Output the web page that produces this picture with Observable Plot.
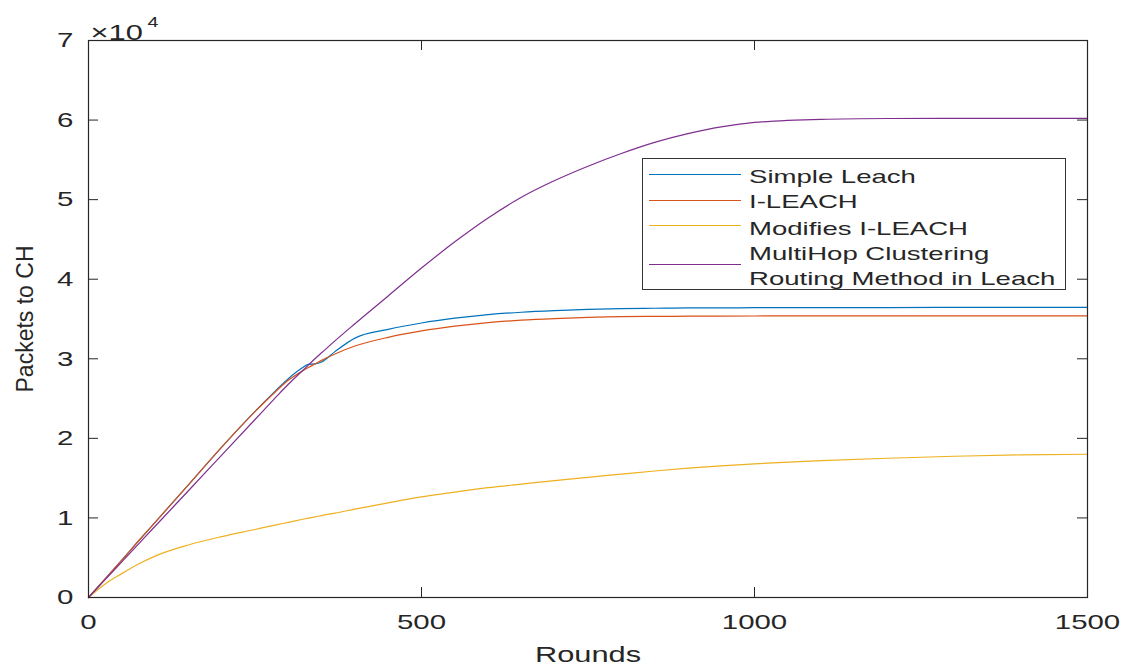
<!DOCTYPE html>
<html>
<head>
<meta charset="utf-8">
<script src="https://cdn.jsdelivr.net/npm/d3@7"></script>
<script src="https://cdn.jsdelivr.net/npm/@observablehq/plot@0.6"></script>
<style>
  body { margin: 0; background: #fff; }
  #wrap { position: relative; width: 1134px; height: 671px; font-family: "Liberation Sans", Arial, sans-serif; }
  #wrap svg { position: absolute; left: 0; top: 0; }
  #legend { position: absolute; left: 642px; top: 158px; width: 424px; height: 132px; border: 1px solid #333; background: #fff; box-sizing: border-box; }
  .lg-line { position: absolute; left: 6px; width: 92px; height: 0; border-top: 1.2px solid; }
  .lg-text { position: absolute; left: 106px; font-size: 19px; color: #262626; line-height: 1; white-space: nowrap; transform: scaleX(1.45); transform-origin: left center; }
</style>
</head>
<body>
<div id="wrap"></div>
<script>
// ---- data (packets) ----
const rounds = [0, 25, 50, 75, 100, 150, 200, 250, 280, 300, 320, 330, 340, 350, 370, 400, 450, 500, 550, 600, 650, 700, 750, 800, 850, 900, 950, 1000, 1100, 1200, 1300, 1400, 1500];
const simpleLeach = [0, 2350, 4700, 7100, 9450, 14150, 18900, 23400, 25900, 27500, 28800, 29300, 29350, 29600, 30900, 32600, 33700, 34500, 35100, 35550, 35850, 36050, 36200, 36300, 36350, 36400, 36400, 36420, 36430, 36440, 36450, 36450, 36450];
const iLeach = [0, 2350, 4700, 7100, 9450, 14150, 18900, 23350, 25800, 27300, 28400, 28900, 29350, 29800, 30600, 31600, 32700, 33500, 34100, 34550, 34850, 35050, 35200, 35300, 35330, 35350, 35370, 35380, 35400, 35400, 35400, 35400, 35400];
const modifiedILeach = [0, 1700, 3000, 4200, 5200, 6600, 7650, 8550, 9100, 9450, 9800, 9970, 10130, 10300, 10600, 11100, 11900, 12650, 13250, 13800, 14250, 14700, 15100, 15500, 15900, 16250, 16550, 16800, 17200, 17500, 17750, 17920, 18000];
const multiHop = [0, 2240, 4470, 6710, 8950, 13420, 17900, 22370, 25050, 26800, 28400, 29200, 30000, 30750, 32250, 34400, 37900, 41400, 44700, 47700, 50300, 52400, 54200, 55800, 57200, 58300, 59150, 59700, 60100, 60200, 60220, 60220, 60220];

const seriesNames = ["Simple Leach", "I-LEACH", "Modifies I-LEACH", "MultiHop Clustering Routing Method in Leach"];
const legendLabels = [["Simple Leach"], ["I-LEACH"], ["Modifies I-LEACH"], ["MultiHop Clustering", "Routing Method in Leach"]];
const seriesColors = ["#0072BD", "#D95319", "#EDB120", "#7E2F8E"];
const xTicks = [0, 500, 1000, 1500];
const xTickLabels = ["0", "500", "1000", "1500"];
const yTicks = [0, 10000, 20000, 30000, 40000, 50000, 60000, 70000];
const yTickLabels = ["0", "1", "2", "3", "4", "5", "6", "7"];
const xLabel = "Rounds";
const yLabel = "Packets to CH";

// ---- build table ----
const seriesValues = [simpleLeach, iLeach, modifiedILeach, multiHop];
const table = seriesValues.flatMap((vals, s) => rounds.map((r, i) => ({round: r, packets: vals[i], series: seriesNames[s]})));

const W = 1134, H = 671, mL = 88, mR = 47, mT = 40, mB = 74;
const pw = W - mL - mR, ph = H - mT - mB;
const ink = "#262626";

const chart = Plot.plot({
  width: W, height: H,
  marginLeft: mL, marginRight: mR, marginTop: mT, marginBottom: mB,
  style: {fontFamily: "'Liberation Sans', Arial, sans-serif", fontSize: "21px", color: ink, background: "#fff", overflow: "visible"},
  x: {domain: [0, 1500]},
  y: {domain: [0, 70000]},
  color: {domain: seriesNames, range: seriesColors},
  marks: [
    Plot.axisX({ticks: xTicks, tickFormat: (d) => xTickLabels[xTicks.indexOf(d)], tickSize: 0, tickPadding: 17, label: null, fill: ink}),
    Plot.axisY({ticks: yTicks, tickFormat: (d) => yTickLabels[yTicks.indexOf(d)], tickSize: 0, tickPadding: 15, label: null, fill: ink}),
    // inward ticks on all four sides (MATLAB box style)
    Plot.tickX(xTicks, {x: d => d, insetTop: ph - 10, stroke: ink}),
    Plot.tickX(xTicks, {x: d => d, insetBottom: ph - 10, stroke: ink}),
    Plot.tickY(yTicks, {y: d => d, insetRight: pw - 10, stroke: ink}),
    Plot.tickY(yTicks, {y: d => d, insetLeft: pw - 10, stroke: ink}),
    Plot.line(table, {x: "round", y: "packets", z: "series", stroke: "series", strokeWidth: 1.2, curve: "monotone-x"}),
    Plot.frame({stroke: ink, strokeWidth: 1.2}),
    Plot.text([yLabel], {frameAnchor: "left", rotate: -90, dx: -63, textAnchor: "middle", lineAnchor: "middle", fontSize: 23, fill: ink}),
    Plot.text([xLabel], {frameAnchor: "bottom", dy: 64, fontSize: 22, fill: ink}),
    Plot.text(["×10"], {frameAnchor: "top-left", dx: 2, dy: -16, textAnchor: "start", fontSize: 22, fill: ink}),
    Plot.text(["4"], {frameAnchor: "top-left", dx: 59, dy: -23, textAnchor: "start", fontSize: 14, fill: ink})
  ]
});

const wrap = document.getElementById("wrap");
wrap.appendChild(chart);

// horizontal stretch of non-rotated text, as in the reference
chart.querySelectorAll("text").forEach(t => {
  const tr = t.getAttribute("transform") || "";
  if (tr.includes("rotate")) return;
  const len = t.getComputedTextLength();
  if (len > 0) {
    t.setAttribute("textLength", (len * 1.4).toFixed(1));
    t.setAttribute("lengthAdjust", "spacingAndGlyphs");
  }
});

// legend
const legend = document.createElement("div");
legend.id = "legend";
const lineTops = [15, 41, 66, 105];
const textTops = [[8], [33], [60], [85, 110]];
legendLabels.forEach((lines, s) => {
  const ln = document.createElement("div");
  ln.className = "lg-line";
  ln.style.top = lineTops[s] + "px";
  ln.style.borderTopColor = seriesColors[s];
  legend.appendChild(ln);
  lines.forEach((txt, j) => {
    const sp = document.createElement("div");
    sp.className = "lg-text";
    sp.style.top = textTops[s][j] + "px";
    sp.textContent = txt;
    legend.appendChild(sp);
  });
});
wrap.appendChild(legend);
</script>
</body>
</html>
